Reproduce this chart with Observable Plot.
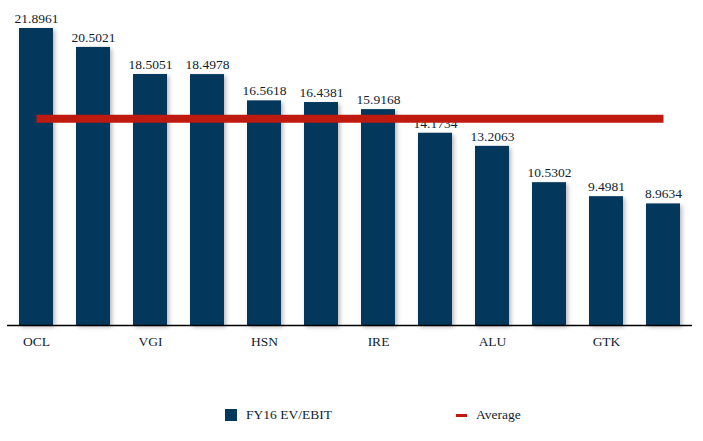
<!DOCTYPE html>
<html>
<head>
<meta charset="utf-8">
<script src="https://cdn.jsdelivr.net/npm/d3@7"></script>
<script src="https://cdn.jsdelivr.net/npm/@observablehq/plot@0.6"></script>
<style>
  html, body { margin: 0; padding: 0; background: #fff; }
  #wrap { position: relative; width: 703px; height: 441px; font-family: "Liberation Serif", "Times New Roman", serif; }
  #legend { position: absolute; left: 0; top: 404px; width: 703px; height: 24px; font-size: 13.5px; color: #0f1e30; }
  .sw { position: absolute; }
  .lt { position: absolute; top: 3px; }
  .bars rect { filter: drop-shadow(2px 2px 2px rgba(0,0,0,0.28)); }
  svg text { font-family: "Liberation Serif", "Times New Roman", serif; }
</style>
</head>
<body>
<div id="wrap">
  <div id="chart"></div>
  <div id="legend">
    <div class="sw" style="left:225px; top:5px; width:12px; height:12px; background:#03385c;"></div>
    <div class="lt" style="left:246px;">FY16 EV/EBIT</div>
    <div class="sw" style="left:456px; top:10px; width:11px; height:3px; background:#bf1a0f;"></div>
    <div class="lt" style="left:476px;">Average</div>
  </div>
</div>
<script>
// Companies (only every other one is labelled on the axis)
const categories = ["OCL", "#2", "VGI", "#4", "HSN", "#6", "IRE", "#8", "ALU", "#10", "GTK", "#12"];
const tickLabels = ["OCL", "VGI", "HSN", "IRE", "ALU", "GTK"];
const values = [21.8961, 20.5021, 18.5051, 18.4978, 16.5618, 16.4381, 15.9168, 14.1734, 13.2063, 10.5302, 9.4981, 8.9634];
const average = 15.25;

const data = categories.map((c, i) => ({company: c, value: values[i]}));
const avgData = [
  {company: categories[0], value: average},
  {company: categories[categories.length - 1], value: average}
];

const chart = Plot.plot({
  width: 703,
  height: 350,
  marginTop: 28,
  marginBottom: 25,
  marginLeft: 7,
  marginRight: 11,
  style: {fontFamily: "Liberation Serif", fontSize: "13.5px", color: "#0f1e30", background: "#fff"},
  x: {domain: categories, paddingInner: 0.4, paddingOuter: 0.2, label: null, tickSize: 0, tickPadding: 11, ticks: tickLabels},
  y: {domain: [0, 21.8961], axis: null},
  marks: [
    Plot.barY(data, {x: "company", y: "value", fill: "#03385c", className: "bars"}),
    Plot.ruleY([0], {stroke: "#000", strokeWidth: 1.5}),
    Plot.text(data, {x: "company", y: "value", text: d => d.value.toFixed(4), dy: -10, fill: "#0f1e30", fontSize: 13.5}),
    Plot.lineY(avgData, {x: "company", y: "value", stroke: "#bf1a0f", strokeWidth: 8, strokeLinecap: "butt"})
  ]
});
document.getElementById("chart").appendChild(chart);
</script>
</body>
</html>
